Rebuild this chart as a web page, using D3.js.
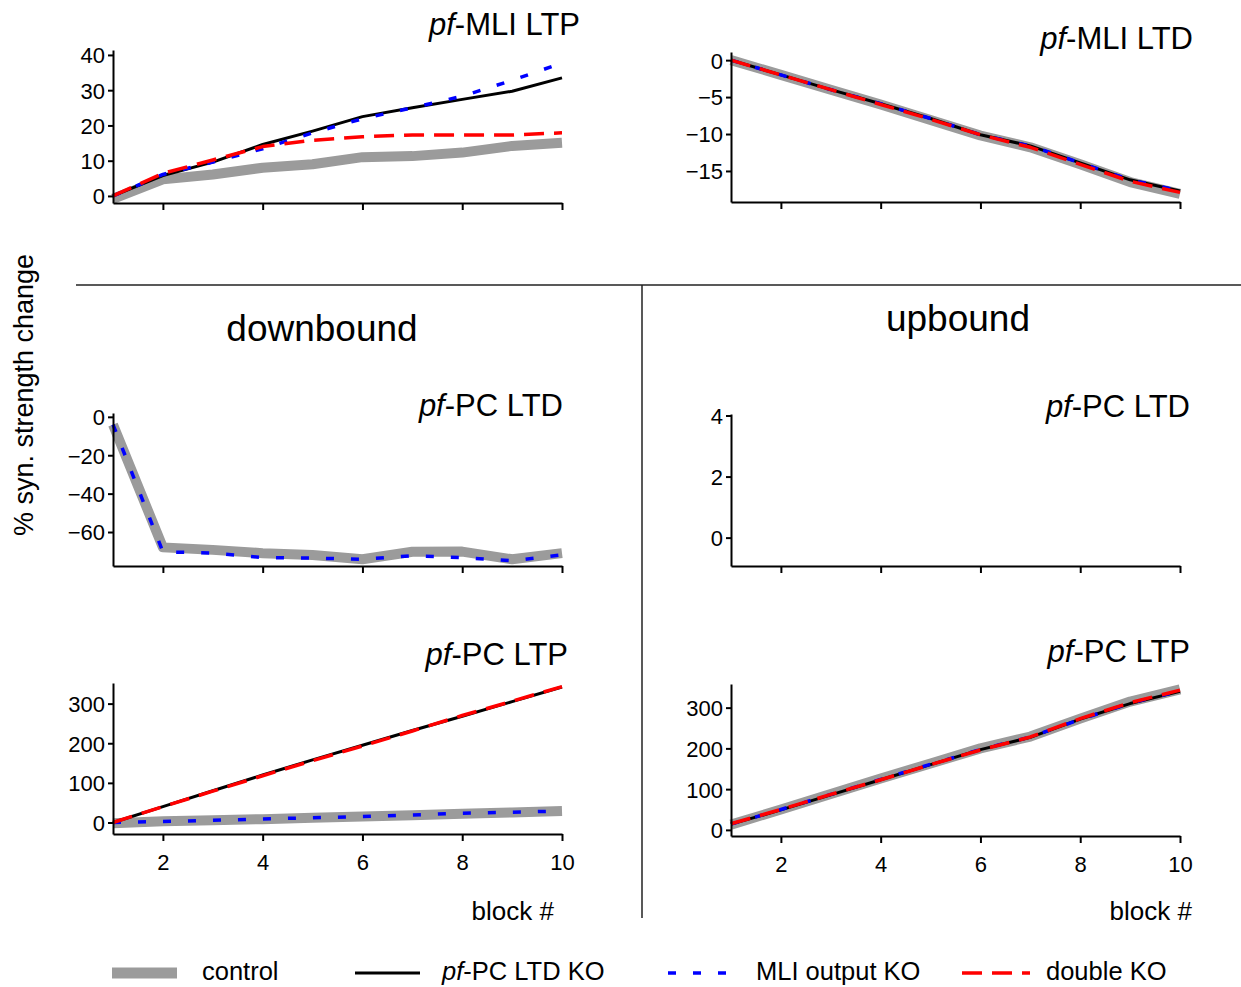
<!DOCTYPE html>
<html><head><meta charset="utf-8">
<script src="https://cdn.jsdelivr.net/npm/d3@7"></script>
<style>
body{margin:0;background:#fff}
svg{display:block}
text{font-family:"Liberation Sans",Arial,sans-serif;fill:#000}
</style>
</head><body>
<svg id="c" width="1241" height="987"></svg>
<script>
// ---------- data ----------
const blocks = [1,2,3,4,5,6,7,8,9,10];
const xTickValues = [2,4,6,8,10];
const seriesNames = ["control","pf-PC LTD KO","MLI output KO","double KO"];

// pf-MLI LTP
const mliLtpControl = [-0.8, 4.7, 6.1, 8.0, 9.0, 11.0, 11.3, 12.3, 14.2, 15.1];
const mliLtpPcKO    = [0, 5.8, 9.6, 14.6, 18.4, 22.5, 25.0, 27.4, 29.7, 33.5];
const mliLtpMliKO   = [0, 6.1, 9.6, 13.4, 17.9, 21.9, 25.0, 28.3, 32.8, 37.7];
const mliLtpDouble  = [0, 6.4, 10.2, 14.0, 15.8, 16.8, 17.3, 17.3, 17.3, 17.9];
const mliLtpTicks = [0,10,20,30,40];

// pf-MLI LTD
const mliLtdControl = [0, -2.0, -4.0, -6.0, -8.1, -10.2, -11.8, -14.1, -16.5, -18.1];
const mliLtdPcKO    = [0, -2.0, -4.0, -5.9, -7.9, -10.1, -11.6, -13.9, -16.2, -17.7];
const mliLtdMliKO   = [0, -2.0, -4.0, -5.9, -7.9, -10.1, -11.6, -13.9, -16.2, -17.7];
const mliLtdDouble  = [0, -2.0, -4.0, -6.0, -8.0, -10.1, -11.8, -14.1, -16.4, -17.9];
const mliLtdTicks = [-15,-10,-5,0];

// downbound pf-PC LTD
const downLtdControl = [-4, -68.0, -69.3, -71.0, -72.0, -74.2, -70.3, -70.2, -74.2, -71.0];
const downLtdMliKO   = [-4, -70.3, -71.0, -73.3, -73.6, -74.2, -72.4, -73.3, -75.0, -71.9];
const downLtdTicks = [-60,-40,-20,0];

// upbound pf-PC LTD (no traces)
const upLtdTicks = [0,2,4];

// downbound pf-PC LTP
const downLtpControl = [-1.7, 3.4, 5.9, 8.4, 11.7, 15.0, 18.4, 21.8, 25.5, 29.3];
const downLtpPcKO    = [0, 40, 80, 120, 158, 195, 232, 268, 305, 342];
const downLtpMliKO   = [0, 2.5, 5.5, 9.0, 12.0, 15.0, 19.0, 23.5, 26.0, 29.0];
const downLtpDouble  = [0, 40, 79, 118, 156, 193, 231, 270, 306, 343];
const downLtpTicks = [0,100,200,300];

// upbound pf-PC LTP
const upLtpControl = [13, 50, 88, 126, 163, 200, 229, 273, 315, 345];
const upLtpPcKO    = [14, 49, 86, 123, 160, 197, 227, 272, 310, 340];
const upLtpMliKO   = [14, 50, 87, 124, 161, 197, 228, 271, 311, 341];
const upLtpDouble  = [15, 50, 87, 123, 160, 196, 228, 273, 312, 343];
const upLtpTicks = [0,100,200,300];

// ---------- styles ----------
const styles = [
  {color:"#9b9b9b", width:10, dash:null},
  {color:"#000000", width:3, dash:null},
  {color:"#0000ff", width:3.5, dash:"8,17"},
  {color:"#ff0000", width:3.5, dash:"20,10"}
];

const svg = d3.select("#c");
const xLeft  = d3.scaleLinear().domain([1,10]).range([113,562]);
const xRight = d3.scaleLinear().domain([1,10]).range([731,1180]);

const panels = [
  {title:"MLI LTP", titleX:580, titleY:35, x:xLeft, yDom:[-2,41.4], yRng:[203,50], yTicks:mliLtpTicks, xLabels:false,
   series:[mliLtpControl, mliLtpPcKO, mliLtpMliKO, mliLtpDouble]},
  {title:"MLI LTD", titleX:1193, titleY:49, x:xRight, yDom:[-19.2,1.1], yRng:[202,52], yTicks:mliLtdTicks, xLabels:false,
   series:[mliLtdControl, mliLtdPcKO, mliLtdMliKO, mliLtdDouble]},
  {title:"PC LTD", titleX:563, titleY:416, x:xLeft, yDom:[-77.7,2], yRng:[566,413], yTicks:downLtdTicks, xLabels:false,
   series:[downLtdControl, null, downLtdMliKO, null]},
  {title:"PC LTD", titleX:1190, titleY:417, x:xRight, yDom:[-0.93,4.05], yRng:[566,414], yTicks:upLtdTicks, xLabels:false,
   series:[null,null,null,null]},
  {title:"PC LTP", titleX:568, titleY:665, x:xLeft, yDom:[-29,352], yRng:[834,683], yTicks:downLtpTicks, xLabels:true,
   series:[downLtpControl, downLtpPcKO, downLtpMliKO, downLtpDouble]},
  {title:"PC LTP", titleX:1190, titleY:662, x:xRight, yDom:[-15,358], yRng:[836,684], yTicks:upLtpTicks, xLabels:true,
   series:[upLtpControl, upLtpPcKO, upLtpMliKO, upLtpDouble]}
];

panels.forEach(p => {
  const y = d3.scaleLinear().domain(p.yDom).range(p.yRng);
  const g = svg.append("g");
  const line = d3.line().x((d,i)=>p.x(blocks[i])).y(d=>y(d));
  p.series.forEach((s,i) => {
    if (!s) return;
    const st = styles[i];
    g.append("path").attr("d", line(s)).attr("fill","none")
      .attr("stroke", st.color).attr("stroke-width", st.width)
      .attr("stroke-linejoin","round")
      .attr("stroke-dasharray", st.dash);
  });
  const ya = g.append("g").attr("transform",`translate(${p.x.range()[0]},0)`)
    .call(d3.axisLeft(y).tickValues(p.yTicks).tickSize(5).tickSizeOuter(0).tickPadding(3).tickFormat(d3.format("d")));
  ya.selectAll("text").style("font-size","22px").attr("dy","0.36em");
  const xa = g.append("g").attr("transform",`translate(0,${p.yRng[0]})`)
    .call(d3.axisBottom(p.x).tickValues(xTickValues).tickSize(7).tickSizeOuter(0).tickPadding(13)
      .tickFormat(p.xLabels ? d3.format("d") : ""));
  xa.selectAll("text").style("font-size","22px");
  g.selectAll(".domain,.tick line").attr("stroke","#000").attr("stroke-width",2);
  g.selectAll(".tick text").attr("fill","#000");
  const t = svg.append("text").attr("x",p.titleX).attr("y",p.titleY)
    .attr("text-anchor","end").style("font-size","31px");
  t.append("tspan").style("font-style","italic").text("pf");
  t.append("tspan").text("-" + p.title);
});

// separators
svg.append("line").attr("x1",76).attr("x2",1241).attr("y1",285).attr("y2",285).attr("stroke","#222").attr("stroke-width",1.5);
svg.append("line").attr("x1",642).attr("x2",642).attr("y1",285).attr("y2",918).attr("stroke","#222").attr("stroke-width",1.5);

// section headings
svg.append("text").attr("x",322).attr("y",341).attr("text-anchor","middle").style("font-size","37px").text("downbound");
svg.append("text").attr("x",958).attr("y",331).attr("text-anchor","middle").style("font-size","37px").text("upbound");

// axis labels
svg.append("text").attr("transform","translate(33,395) rotate(-90)").attr("text-anchor","middle")
  .style("font-size","27px").text("% syn. strength change");
svg.append("text").attr("x",554).attr("y",920).attr("text-anchor","end").style("font-size","26px").text("block #");
svg.append("text").attr("x",1192).attr("y",920).attr("text-anchor","end").style("font-size","26px").text("block #");

// legend
const legendItems = [
  {x1:112, x2:177, tx:202},
  {x1:355, x2:420, tx:442},
  {x1:668, x2:735, tx:756},
  {x1:962, x2:1030, tx:1046}
];
legendItems.forEach((L,i) => {
  const st = styles[i];
  svg.append("line").attr("x1",L.x1).attr("x2",L.x2).attr("y1",973).attr("y2",973)
    .attr("stroke",st.color).attr("stroke-width", i===0 ? 11 : st.width).attr("stroke-dasharray",st.dash);
  const t = svg.append("text").attr("x",L.tx).attr("y",980).style("font-size","25.5px");
  if (seriesNames[i].startsWith("pf-")) {
    t.append("tspan").style("font-style","italic").text("pf");
    t.append("tspan").text(seriesNames[i].slice(2));
  } else t.text(seriesNames[i]);
});
</script>
</body></html>
